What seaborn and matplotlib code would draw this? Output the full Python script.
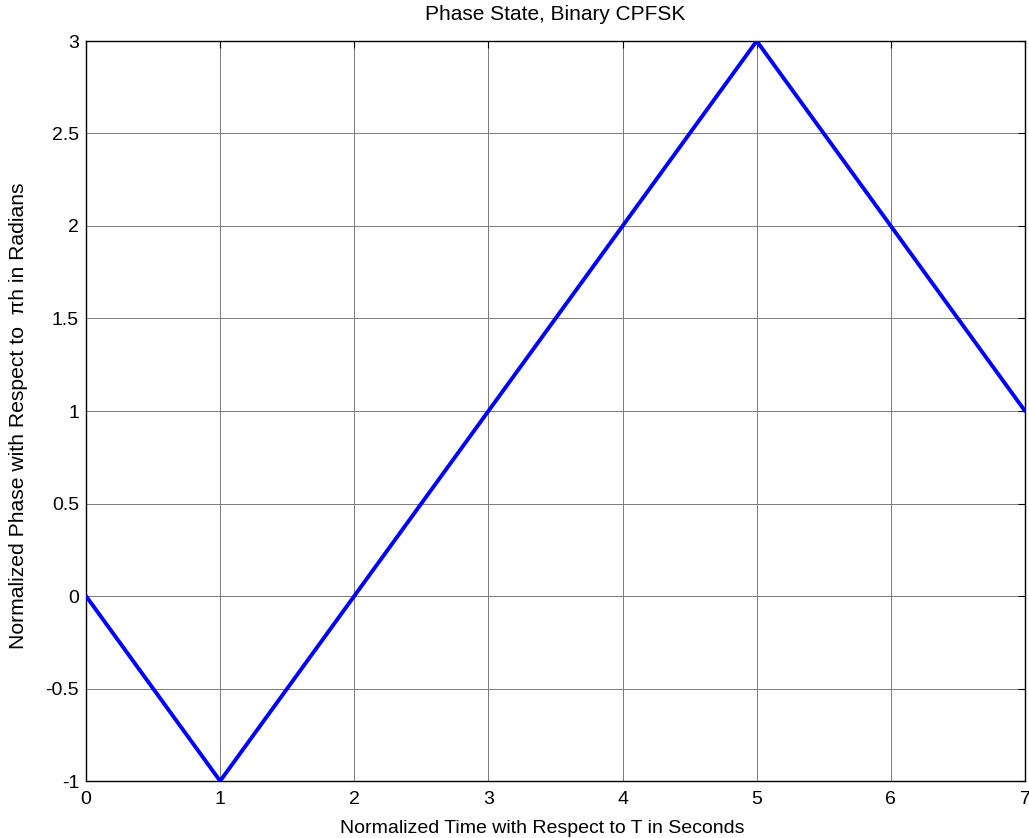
import matplotlib
matplotlib.use("Agg")
import matplotlib.pyplot as plt
import seaborn as sns
import pandas as pd

time_T = [0, 1, 2, 3, 4, 5, 6, 7]
phase = [0, -1, 0, 1, 2, 3, 2, 1]
x_ticks = [0, 1, 2, 3, 4, 5, 6, 7]
y_ticks = [-1, -0.5, 0, 0.5, 1, 1.5, 2, 2.5, 3]
y_tick_labels = ["-1", "-0.5", "0", "0.5", "1", "1.5", "2", "2.5", "3"]

sns.set_style("white")
plt.rcParams['font.family'] = ['Liberation Sans', 'DejaVu Sans']

df = pd.DataFrame({"t": time_T, "p": phase})
fig = plt.figure(figsize=(10.29, 8.38), dpi=100)
ax = fig.add_axes([86/1029, 57/838, (1025-86)/1029, (781-41)/838])
sns.lineplot(data=df, x="t", y="p", ax=ax, color="#0000ff", linewidth=2.8, zorder=3)
ax.set_xlim(0, 7)
ax.set_ylim(-1, 3)
ax.set_xticks(x_ticks)
ax.set_yticks(y_ticks)
ax.set_yticklabels(y_tick_labels)
ax.grid(True, color="#7a7a7a", linewidth=0.7, linestyle="-")
ax.tick_params(axis="x", pad=7)
ax.tick_params(axis="y", pad=5)
ax.tick_params(direction="in", top=True, right=True, length=5, width=0.8, labelsize=14, colors="black")
for s in ax.spines.values():
    s.set_color("black")
    s.set_linewidth(1.0)
    s.set_visible(True)
ax.set_xlabel("Normalized Time with Respect to T in Seconds", fontsize=14, color="black")
ax.set_ylabel("Normalized Phase with Respect to  πh in Radians", fontsize=15.2, color="black")
ax.xaxis.set_label_coords(0.4856, -0.053)
ax.yaxis.set_label_coords(-0.062, 0.493)
ax.set_title("Phase State, Binary CPFSK", fontsize=15, pad=15, color="black")
fig.savefig("out.png", dpi=100, facecolor="white")
